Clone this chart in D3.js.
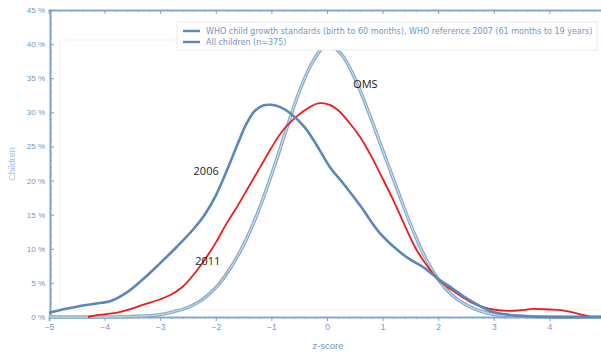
<!DOCTYPE html>
<html>
<head>
<meta charset="utf-8">
<script src="https://cdn.jsdelivr.net/npm/d3@7"></script>
<style>
  body { margin: 0; background: #fff; }
  svg { display: block; font-family: "Liberation Sans", Arial, sans-serif; }
</style>
</head>
<body>
<div id="chart"></div>
<script>
// z-score positions and % of children for each curve
const zWho = [-5, -4, -3.5, -3, -2.75, -2.5, -2.25, -2, -1.75, -1.5, -1.25, -1, -0.75, -0.5, -0.25, 0, 0.25, 0.5, 0.75, 1, 1.25, 1.5, 1.75, 2, 2.25, 2.5, 2.75, 3, 3.5, 4, 4.95];
const pctWho = [0, 0, 0.08, 0.35, 0.8, 1.4, 2.5, 4.3, 7, 10.6, 15.2, 20.8, 27, 33, 37.5, 39.9, 38.6, 35, 30, 24.5, 19, 13.6, 9, 5.5, 3.2, 1.8, 0.9, 0.4, 0.1, 0, 0];

const z2006 = [-5, -4.7, -4.3, -4.05, -3.9, -3.6, -3.3, -3.0, -2.7, -2.4, -2.2, -2.0, -1.8, -1.6, -1.45, -1.3, -1.15, -1.0, -0.85, -0.65, -0.4, -0.2, 0.05, 0.3, 0.6, 0.95, 1.3, 1.5, 1.75, 2.0, 2.25, 2.5, 2.75, 3.0, 3.3, 3.6, 4, 4.95];
const pct2006 = [0.6, 1.2, 1.8, 2.1, 2.3, 3.6, 5.6, 7.9, 10.3, 12.9, 15, 17.8, 21.5, 25.5, 28.3, 30.2, 31, 31.1, 30.8, 29.8, 27.8, 25.4, 22, 19.5, 16.3, 12.3, 9.6, 8.4, 7.2, 5.6, 4.2, 2.8, 1.6, 0.7, 0.3, 0.1, 0, 0];

const z2011 = [-4.3, -4.1, -3.8, -3.6, -3.3, -3.0, -2.8, -2.6, -2.4, -2.2, -2.0, -1.8, -1.6, -1.4, -1.2, -1.0, -0.8, -0.6, -0.4, -0.16, 0.05, 0.2, 0.41, 0.6, 0.8, 1.0, 1.2, 1.4, 1.6, 1.8, 2.0, 2.2, 2.44, 2.6, 2.8, 3.0, 3.27, 3.5, 3.7, 4.0, 4.2, 4.4, 4.6, 4.75];
const pct2011 = [0, 0.3, 0.6, 1.0, 1.8, 2.6, 3.3, 4.4, 6.2, 8.4, 10.9, 13.8, 16.4, 19.2, 22, 24.8, 27.3, 29, 30.3, 31.3, 31.1, 30.3, 28.4, 26.3, 23.5, 20.3, 17, 13.4, 10, 7.5, 5.5, 4.2, 2.9, 2.1, 1.5, 1.1, 0.9, 1.0, 1.2, 1.1, 1.0, 0.7, 0.3, 0];

const xTicks = [-5, -4, -3, -2, -1, 0, 1, 2, 3, 4];
const yTicks = [0, 5, 10, 15, 20, 25, 30, 35, 40, 45];
const legendItems = [
  "WHO child growth standards (birth to 60 months), WHO reference 2007 (61 months to 19 years)",
  "All children (n=375)"
];
const curveLabels = [
  { text: "2006", z: -2.4, pct: 20.8 },
  { text: "2011", z: -2.37, pct: 7.6 },
  { text: "OMS", z: 0.47, pct: 33.6 }
];

const W = 601, H = 354;
const axisCol = "#7fa5cf";
const textCol = "#7196c6";

const svg = d3.select("#chart").append("svg")
  .attr("width", W)
  .attr("height", H);

const x = d3.scaleLinear().domain([-5, 5]).range([49, 605]);
const y = d3.scaleLinear().domain([0, 45]).range([317, 10]);

// faint plot frame
svg.append("rect")
  .attr("x", 60).attr("y", 40)
  .attr("width", 545).attr("height", 270)
  .attr("fill", "none")
  .attr("stroke", "#f2f4f6");

// axes
const xAxis = svg.append("g").attr("transform", "translate(0,317)")
  .call(d3.axisBottom(x).tickValues(xTicks).tickSize(4).tickFormat(d3.format("d")));
const xMinor = svg.append("g").attr("transform", "translate(0,317)")
  .call(d3.axisBottom(x).tickValues(d3.range(-5, 5, 0.2)).tickSize(2).tickFormat(""));
const xTop = svg.append("g").attr("transform", "translate(0,10)")
  .call(d3.axisBottom(x).tickValues(xTicks).tickSize(4).tickFormat(""));
const xTopMinor = svg.append("g").attr("transform", "translate(0,10)")
  .call(d3.axisBottom(x).tickValues(d3.range(-5, 5, 0.2)).tickSize(2).tickFormat(""));
const yAxis = svg.append("g").attr("transform", "translate(50,0)")
  .call(d3.axisRight(y).tickValues(yTicks).tickSize(4).tickFormat(""));
const yMinor = svg.append("g").attr("transform", "translate(50,0)")
  .call(d3.axisRight(y).tickValues(d3.range(0, 45, 1)).tickSize(2).tickFormat(""));

[xAxis, xMinor, xTop, xTopMinor, yAxis, yMinor].forEach(g => {
  g.select(".domain").attr("stroke", axisCol).attr("stroke-width", 1.6);
  g.selectAll(".tick line").attr("stroke", axisCol);
});
xAxis.selectAll(".tick text")
  .attr("fill", textCol).attr("font-size", 8.5).attr("y", 7);

// y tick labels on the left
svg.append("g").selectAll("text")
  .data(yTicks)
  .join("text")
  .attr("x", 45)
  .attr("y", d => y(d) + 3)
  .attr("text-anchor", "end")
  .attr("font-size", 8)
  .attr("fill", textCol)
  .text(d => d + " %");

svg.append("text")
  .attr("transform", "translate(15,164) rotate(-90)")
  .attr("text-anchor", "middle")
  .attr("font-size", 9)
  .attr("fill", "#a9c0dc")
  .text("Children");

svg.append("text")
  .attr("x", 328).attr("y", 349)
  .attr("text-anchor", "middle")
  .attr("font-size", 9.5)
  .attr("fill", textCol)
  .text("z-score");

// curves
const toPts = (zs, ps) => zs.map((z, i) => [z, ps[i]]);
const line = d3.line()
  .x(d => x(d[0]))
  .y(d => y(d[1]))
  .curve(d3.curveCatmullRom.alpha(0.5));

const who = toPts(zWho, pctWho);
svg.append("path").attr("d", line(who))
  .attr("fill", "none").attr("stroke", "#86aacd").attr("stroke-width", 3.4);
svg.append("path").attr("d", line(who))
  .attr("fill", "none").attr("stroke", "#d9e6f1").attr("stroke-width", 1);
svg.append("path").attr("d", line(who.filter(d => d[0] < -1.5)))
  .attr("fill", "none").attr("stroke", "#a8c48a")
  .attr("stroke-width", 1).attr("stroke-dasharray", "1,2");

svg.append("path").attr("d", line(toPts(z2011, pct2011)))
  .attr("fill", "none").attr("stroke", "#ee1c1c").attr("stroke-width", 1.8);

svg.append("path").attr("d", line(toPts(z2006, pct2006)))
  .attr("fill", "none").attr("stroke", "#5b88bb").attr("stroke-width", 2.6);

// curve labels
svg.append("g").selectAll("text")
  .data(curveLabels)
  .join("text")
  .attr("x", d => x(d.z))
  .attr("y", d => y(d.pct))
  .attr("font-family", "'Open Sans', sans-serif")
  .attr("font-size", 11)
  .attr("fill", "#222")
  .text(d => d.text);

// legend
const lg = svg.append("g");
lg.append("rect")
  .attr("x", 177).attr("y", 22)
  .attr("width", 420).attr("height", 28)
  .attr("fill", "#fff")
  .attr("stroke", "#e4ebf2");
lg.selectAll("line")
  .data(legendItems)
  .join("line")
  .attr("x1", 183).attr("x2", 200)
  .attr("y1", (d, i) => 31 + i * 11)
  .attr("y2", (d, i) => 31 + i * 11)
  .attr("stroke", "#5b88bb").attr("stroke-width", 2.4);
lg.selectAll("text")
  .data(legendItems)
  .join("text")
  .attr("x", 206)
  .attr("y", (d, i) => 33.5 + i * 11)
  .attr("font-family", "'DejaVu Sans', sans-serif")
  .attr("font-size", 8)
  .attr("fill", textCol)
  .text(d => d);
</script>
</body>
</html>
